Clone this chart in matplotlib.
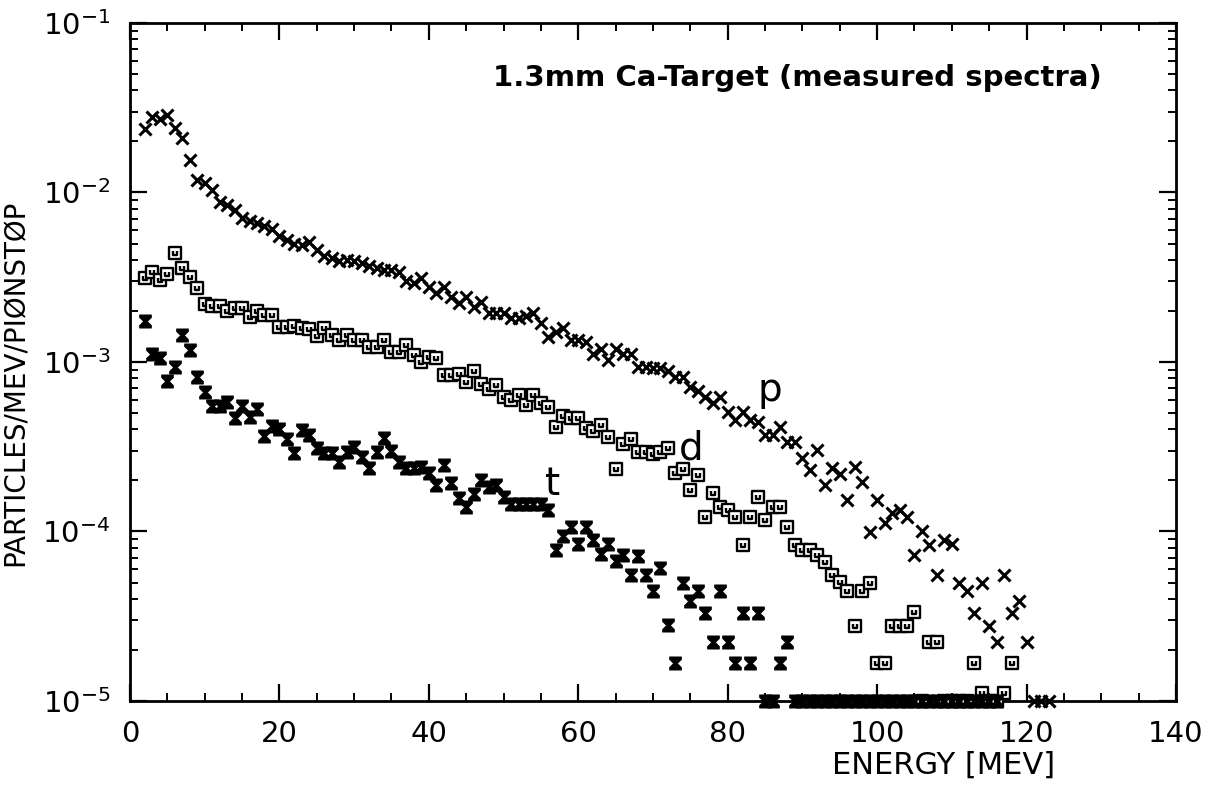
import numpy as np
import matplotlib
matplotlib.use("Agg")
import matplotlib.pyplot as plt
from matplotlib.path import Path
from matplotlib.ticker import MultipleLocator, LogLocator, NullFormatter

# energy bins (MeV) and measured spectra; 0 = empty bin (drawn on the axis)
energy_p = np.arange(2, 124)
protons = [
    2.36e-2, 2.80e-2, 2.72e-2, 2.86e-2, 2.39e-2, 2.09e-2, 1.56e-2, 1.19e-2, 1.13e-2, 1.04e-2,
    8.8e-3, 8.4e-3, 7.9e-3, 7.05e-3, 6.8e-3, 6.6e-3, 6.3e-3, 6.1e-3, 5.5e-3, 5.25e-3,
    5.0e-3, 4.9e-3, 5.1e-3, 4.6e-3, 4.2e-3, 4.1e-3, 3.96e-3, 3.99e-3, 3.92e-3, 3.84e-3,
    3.68e-3, 3.59e-3, 3.49e-3, 3.49e-3, 3.41e-3, 3.02e-3, 2.91e-3, 3.12e-3, 2.78e-3, 2.54e-3,
    2.78e-3, 2.43e-3, 2.22e-3, 2.43e-3, 2.12e-3, 2.27e-3, 1.94e-3, 1.94e-3, 1.94e-3, 1.81e-3,
    1.81e-3, 1.86e-3, 1.94e-3, 1.69e-3, 1.41e-3, 1.51e-3, 1.58e-3, 1.35e-3, 1.35e-3, 1.32e-3,
    1.12e-3, 1.20e-3, 1.03e-3, 1.20e-3, 1.12e-3, 1.12e-3, 9.4e-4, 9.4e-4, 9.2e-4, 9.2e-4,
    8.8e-4, 8.2e-4, 8.2e-4, 7.1e-4, 6.7e-4, 6.2e-4, 5.7e-4, 6.2e-4, 5.1e-4, 4.55e-4,
    5.1e-4, 4.55e-4, 4.45e-4, 3.71e-4, 3.71e-4, 4.15e-4, 3.39e-4, 3.39e-4, 2.7e-4, 2.31e-4,
    3.03e-4, 1.88e-4, 2.36e-4, 2.18e-4, 1.53e-4, 2.39e-4, 1.97e-4, 9.97e-5, 1.53e-4, 1.12e-4,
    1.28e-4, 1.33e-4, 1.22e-4, 7.27e-5, 1.0e-4, 8.3e-5, 5.53e-5, 8.9e-5, 8.4e-5, 4.99e-5,
    4.48e-5, 3.32e-5, 4.99e-5, 2.77e-5, 2.22e-5, 5.53e-5, 3.32e-5, 3.91e-5, 2.22e-5, 0,
    0, 0,
]

energy_d = np.arange(2, 119)
deuterons = [
    3.12e-3, 3.41e-3, 3.05e-3, 3.31e-3, 4.38e-3, 3.6e-3, 3.18e-3, 2.72e-3, 2.2e-3, 2.14e-3,
    2.14e-3, 2.0e-3, 2.07e-3, 2.07e-3, 1.85e-3, 2.0e-3, 1.89e-3, 1.89e-3, 1.6e-3, 1.6e-3,
    1.63e-3, 1.58e-3, 1.56e-3, 1.42e-3, 1.59e-3, 1.44e-3, 1.35e-3, 1.44e-3, 1.35e-3, 1.35e-3,
    1.23e-3, 1.23e-3, 1.34e-3, 1.15e-3, 1.15e-3, 1.26e-3, 1.1e-3, 1.0e-3, 1.07e-3, 1.05e-3,
    8.4e-4, 8.4e-4, 8.5e-4, 7.65e-4, 8.9e-4, 7.4e-4, 6.9e-4, 7.3e-4, 6.24e-4, 5.97e-4,
    6.38e-4, 5.57e-4, 6.38e-4, 5.7e-4, 5.4e-4, 4.15e-4, 4.8e-4, 4.65e-4, 4.69e-4, 4.06e-4,
    3.94e-4, 4.25e-4, 3.6e-4, 2.34e-4, 3.27e-4, 3.5e-4, 2.96e-4, 2.96e-4, 2.86e-4, 2.96e-4,
    3.1e-4, 2.2e-4, 2.33e-4, 1.76e-4, 2.15e-4, 1.22e-4, 1.68e-4, 1.4e-4, 1.34e-4, 1.22e-4,
    8.3e-5, 1.22e-4, 1.6e-4, 1.17e-4, 1.39e-4, 1.39e-4, 1.06e-4, 8.3e-5, 7.78e-5, 7.78e-5,
    7.26e-5, 6.63e-5, 5.53e-5, 5.06e-5, 4.48e-5, 2.77e-5, 4.48e-5, 4.99e-5, 1.67e-5, 1.67e-5,
    2.77e-5, 2.77e-5, 2.77e-5, 3.37e-5, 0, 2.22e-5, 2.22e-5, 0, 0, 0,
    0, 1.67e-5, 1.11e-5, 0, 0, 1.11e-5, 1.67e-5,
]

nan = np.nan
energy_t = np.arange(2, 117)
tritons = [
    1.75e-3, 1.11e-3, 1.05e-3, 7.76e-4, 9.38e-4, 1.44e-3, 1.18e-3, 8.2e-4, 6.68e-4, 5.5e-4,
    5.5e-4, 5.83e-4, 4.66e-4, 5.5e-4, 4.75e-4, 5.26e-4, 3.66e-4, 4.19e-4, 4.0e-4, 3.5e-4,
    2.92e-4, 3.97e-4, 3.71e-4, 3.1e-4, 2.89e-4, 2.89e-4, 2.58e-4, 2.96e-4, 3.16e-4, 2.76e-4,
    2.36e-4, 2.96e-4, 3.55e-4, 3.0e-4, 2.58e-4, 2.36e-4, 2.36e-4, 2.41e-4, 2.2e-4, 1.88e-4,
    2.47e-4, 1.94e-4, 1.57e-4, 1.39e-4, 1.66e-4, 2.0e-4, 1.84e-4, 1.88e-4, 1.6e-4, 1.45e-4,
    1.46e-4, 1.46e-4, 1.46e-4, 1.46e-4, 1.33e-4, 7.78e-5, 9.4e-5, 1.06e-4, 8.4e-5, 1.06e-4,
    8.9e-5, 7.36e-5, 8.4e-5, 6.73e-5, 7.26e-5, 5.53e-5, 7.13e-5, 5.53e-5, 4.48e-5, 6.07e-5,
    2.81e-5, 1.67e-5, 4.99e-5, 3.91e-5, 4.48e-5, 3.32e-5, 2.24e-5, 4.48e-5, 2.24e-5, 1.67e-5,
    3.32e-5, 1.67e-5, 3.32e-5, 0, 0, 1.67e-5, 2.24e-5, 0, 0, 0,
    0, 0, 0, 0, 0, 0, 0, nan, 0, 0,
    0, 0, 0, 0, 0, nan, nan, 0, 0, 0,
    0, nan, nan, 0, 0,
]

YMIN, YMAX = 1e-5, 1e-1

plt.rcParams["font.family"] = ["DejaVu Sans"]

# marker shapes: square with a small cup inside (d), filled hourglass (t)
sq = Path([(-1, -1), (1, -1), (1, 1), (-1, 1), (-1, -1),
           (-0.4, 0.4), (-0.4, -0.35), (0.4, -0.35), (0.4, 0.4)],
          [Path.MOVETO, Path.LINETO, Path.LINETO, Path.LINETO, Path.CLOSEPOLY,
           Path.MOVETO, Path.LINETO, Path.LINETO, Path.LINETO])
hourglass = Path([(-0.9, 1), (0.9, 1), (0.9, 0.6), (0.3, 0), (0.9, -0.6), (0.9, -1),
                  (-0.9, -1), (-0.9, -0.6), (-0.3, 0), (-0.9, 0.6), (-0.9, 1)],
                 [Path.MOVETO] + [Path.LINETO] * 9 + [Path.CLOSEPOLY])


def onaxis(v):
    v = np.array(v, dtype=float)
    return np.where(v > 0, v, YMIN)


fig = plt.figure(figsize=(12.07, 7.92), dpi=100)
ax = fig.add_axes([0.1077, 0.1149, 0.8666, 0.8561])
ax.set_yscale("log")

ax.plot(energy_p, onaxis(protons), ls="none", marker="x", ms=8.5, mew=2.2, color="black", clip_on=False, zorder=3)
ax.plot(energy_d, onaxis(deuterons), ls="none", marker=sq, ms=8.5, mew=1.7, mfc="white", mec="black", clip_on=False, zorder=3)
ax.plot(energy_t, onaxis(tritons), ls="none", marker=hourglass, ms=9.5, mew=0.5, mfc="black", mec="black", clip_on=False, zorder=3)

ax.set_xlim(0, 140)
ax.set_ylim(YMIN, YMAX)
ax.xaxis.set_major_locator(MultipleLocator(20))
ax.xaxis.set_minor_locator(MultipleLocator(5))
ax.yaxis.set_major_locator(LogLocator(base=10, numticks=10))
ax.yaxis.set_minor_locator(LogLocator(base=10, subs=np.arange(2, 10), numticks=20))
ax.yaxis.set_minor_formatter(NullFormatter())

ax.tick_params(which="both", direction="in", top=True, right=True, color="black", labelsize=21)
ax.tick_params(which="major", length=12, width=1.6, pad=14)
ax.tick_params(which="minor", length=6, width=1.4)
for s in ax.spines.values():
    s.set_linewidth(2.0)

ax.set_ylabel("PARTICLES/MEV/PIØNSTØP", fontsize=20)
ax.yaxis.set_label_coords(-0.096, 0.47)
fig.text(1055 / 1207, 1 - 765 / 792, "ENERGY [MEV]", fontsize=22, ha="right", va="center")

fig.text(493 / 1207, 1 - 78 / 792, "1.3mm Ca-Target (measured spectra)", fontsize=21,
         fontweight="bold", ha="left", va="center")

ax.text(85.7, 6.8e-4, "p", fontsize=28, ha="center", va="center")
ax.text(75.1, 3.07e-4, "d", fontsize=28, ha="center", va="center")
ax.text(56.5, 1.9e-4, "t", fontsize=28, ha="center", va="center")

fig.savefig("out.png", dpi=100)
